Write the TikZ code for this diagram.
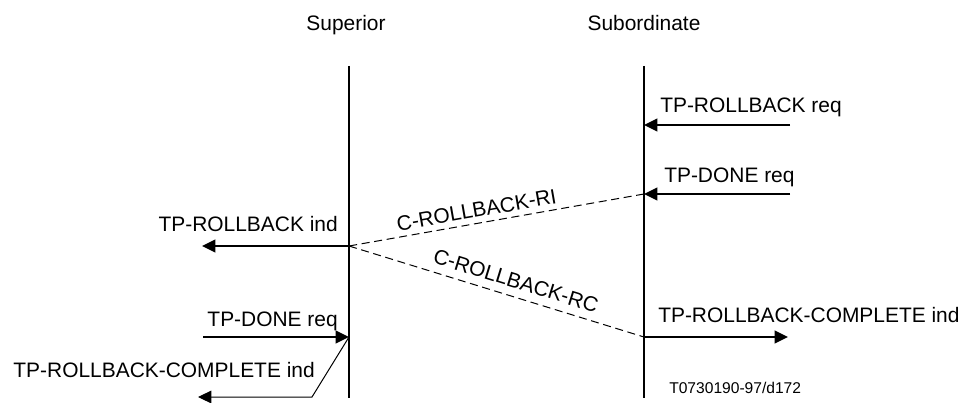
\documentclass[tikz,border=0pt]{standalone}
\usepackage{fontspec}
\setmainfont{Liberation Sans}
\usetikzlibrary{arrows.meta,positioning}
\tikzset{
  lifeline/.style={line width=1.5pt},
  pmsg/.style={-{Triangle[length=10pt,width=9.5pt]}, line width=1.5pt},
  cmsg/.style={line width=0.75pt, dash pattern=on 6pt off 3.5pt},
  plabel/.style={font=\fontsize{15.7}{19}\selectfont, inner sep=0pt},
  ptag/.style={font=\fontsize{11.7}{14}\selectfont, inner sep=0pt}
}

\begin{document}
\begin{tikzpicture}[x=0.75pt, y=-0.75pt]
\useasboundingbox (0,0) rectangle (967,403);
\node[plabel, anchor=base] (sup) at (346,31) {Superior};
\node[plabel, anchor=base] (sub) at (644,31) {Subordinate};
\coordinate (supT) at (349,66);
\coordinate (supB) at (349,398);
\coordinate (subT) at (644,66);
\coordinate (subB) at (644,398);
\draw[lifeline] (supT) -- (supB);
\draw[lifeline] (subT) -- (subB);
% points on the lifelines
\coordinate (subRb) at (644,125);
\coordinate (subDone) at (644,194);
\coordinate (supRb) at (349,246);
\coordinate (subCmp) at (644,337);
\coordinate (supDone) at (349,337);
% free ends
\coordinate (rbReq) at (790,125);
\coordinate (doneReqR) at (790,194);
\coordinate (rbInd) at (202,246);
\coordinate (cmpIndR) at (788,337);
\coordinate (doneReqL) at (203,337);
\coordinate (cmpBend) at (312,397);
\coordinate (cmpIndL) at (198,397);
\draw[pmsg] (rbReq) -- (subRb);
\draw[pmsg] (doneReqR) -- (subDone);
\draw[pmsg] (supRb) -- (rbInd);
\draw[pmsg] (subCmp) -- (cmpIndR);
\draw[pmsg] (doneReqL) -- (supDone);
\draw[pmsg, line width=0.75pt] (supDone) -- (cmpBend) -- (cmpIndL);
\draw[cmsg] (subDone) -- node[plabel, sloped, pos=0.56, above=4pt] (cRi) {C-ROLLBACK-RI} (supRb);
\draw[cmsg] (supRb) -- node[plabel, sloped, pos=0.55, above=6pt] (cRc) {C-ROLLBACK-RC} (subCmp);
% primitive names
\node[plabel, anchor=base west] (lRbReq) at (660,113) {TP-ROLLBACK req};
\node[plabel, anchor=base west] (lDoneR) at (664,182) {TP-DONE req};
\node[plabel, anchor=base east] (lRbInd) at (338,231) {TP-ROLLBACK ind};
\node[plabel, anchor=base west] (lCmpR) at (658,322) {TP-ROLLBACK-COMPLETE ind};
\node[plabel, anchor=base east] (lDoneL) at (338,326) {TP-DONE req};
\node[plabel, anchor=base east] (lCmpL) at (315,377) {TP-ROLLBACK-COMPLETE ind};
\node[ptag, anchor=base west] (fig) at (669,393) {T0730190-97/d172};
\end{tikzpicture}
\end{document}
